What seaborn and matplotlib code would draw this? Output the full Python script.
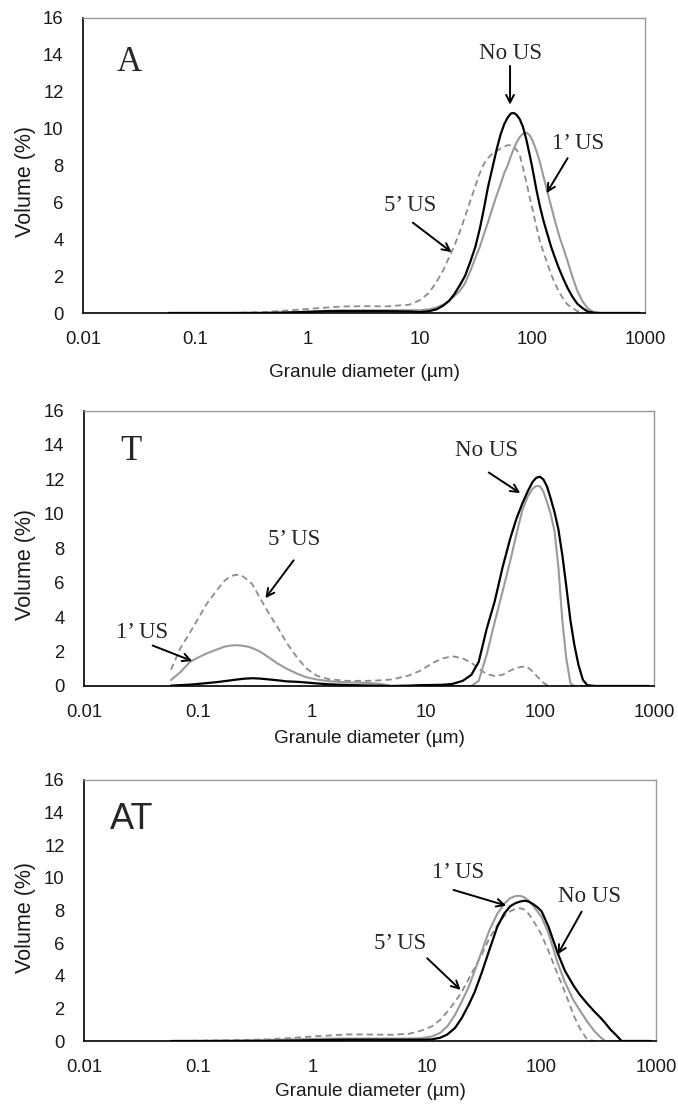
import matplotlib
matplotlib.use("Agg")
import matplotlib.pyplot as plt
import seaborn as sns

# ---- dados (diâmetro em µm, volume em %) ----
a_diam = [0.058, 0.1, 0.2, 0.4, 0.6, 1, 1.5, 2, 3, 5, 8, 10, 12, 14, 16, 18, 20, 22.5, 25, 28, 31, 34, 37,
          40, 44, 48, 52, 56, 60, 64, 68, 72, 77, 82, 88, 94, 100, 108, 116, 125, 135, 146, 158, 172,
          188, 205, 225, 250, 280, 310, 350, 400, 600, 900]
a_no_us = [0, 0, 0, 0, 0.02, 0.06, 0.1, 0.1, 0.1, 0.1, 0.08, 0.05, 0.1, 0.2, 0.4, 0.65, 1.0, 1.5, 2.0, 2.8, 3.6, 4.6, 5.7,
           6.8, 7.9, 8.9, 9.7, 10.25, 10.6, 10.82, 10.85, 10.75, 10.5, 10.1, 9.4, 8.6, 7.8, 6.7, 5.8, 5.0, 4.3, 3.6, 3.0, 2.4,
           1.85, 1.35, 0.9, 0.5, 0.25, 0.08, 0.01, 0, 0, 0]
a_us1 = [0, 0, 0, 0.01, 0.03, 0.08, 0.12, 0.15, 0.15, 0.15, 0.15, 0.15, 0.2, 0.3, 0.45, 0.65, 0.9, 1.2, 1.6, 2.3, 3.0, 3.6, 4.3,
         4.9, 5.7, 6.4, 7.0, 7.6, 8.0, 8.5, 8.9, 9.25, 9.55, 9.72, 9.78, 9.65, 9.35, 8.8, 8.2, 7.4, 6.6, 5.8, 5.0, 4.2,
         3.5, 2.8, 2.0, 1.2, 0.6, 0.25, 0.05, 0, 0, 0]
a_us5 = [0, 0, 0, 0.05, 0.12, 0.22, 0.3, 0.35, 0.37, 0.36, 0.45, 0.7, 1.1, 1.7, 2.3, 3.0, 3.6, 4.4, 5.2, 6.1, 6.9, 7.6, 8.1,
         8.4, 8.65, 8.8, 8.92, 9.02, 9.1, 9.1, 9.0, 8.85, 8.55, 7.9, 7.1, 6.3, 5.6, 4.7, 3.9, 3.3, 2.7, 2.1, 1.6, 1.15,
         0.75, 0.45, 0.28, 0.1, 0.02, 0, 0, 0, 0, 0]

t_diam = [0.058, 0.07, 0.085, 0.1, 0.12, 0.144, 0.17, 0.19, 0.21, 0.23, 0.25, 0.28, 0.3, 0.35, 0.42, 0.5, 0.6,
          0.75, 0.9, 1.1, 1.4, 2, 3, 4, 5, 7, 9, 11.5, 14, 17, 21, 25, 29, 34, 40, 47, 55, 62, 70, 78, 86,
          93, 100, 107, 115, 124, 134, 145, 157, 170, 185, 200, 218, 238, 260, 300, 500, 900]
t_no_us = [0.02, 0.05, 0.08, 0.12, 0.17, 0.22, 0.28, 0.32, 0.36, 0.39, 0.42, 0.44, 0.45, 0.43, 0.38, 0.33, 0.27,
           0.24, 0.2, 0.15, 0.1, 0.06, 0.03, 0.01, 0, 0.02, 0.05, 0.06, 0.07, 0.12, 0.3, 0.65, 1.4, 3.3, 4.9, 6.9, 8.6, 9.7, 10.6, 11.3, 11.85,
           12.1, 12.15, 12.0, 11.6, 10.9, 10.1, 9.1, 7.6, 5.8, 3.8, 2.4, 1.2, 0.35, 0.05, 0, 0, 0]
t_us1 = [0.35, 0.8, 1.4, 1.65, 1.9, 2.1, 2.28, 2.34, 2.37, 2.36, 2.33, 2.27, 2.2, 2.0, 1.65, 1.3, 1.0,
         0.7, 0.5, 0.38, 0.28, 0.22, 0.18, 0.12, 0, 0, 0, 0, 0, 0, 0, 0, 0.3, 1.8, 3.7, 5.5, 7.3, 8.8, 10.2, 11.0, 11.45,
         11.62, 11.6, 11.3, 10.7, 10.0, 9.0, 6.9, 3.8, 1.6, 0.15, 0, 0, 0, 0, 0, 0, 0]
t_us5 = [0.95, 2.2, 3.1, 3.9, 4.8, 5.5, 6.1, 6.35, 6.45, 6.45, 6.35, 6.1, 5.9, 5.1, 4.2, 3.4, 2.5,
         1.6, 1.0, 0.6, 0.4, 0.3, 0.3, 0.33, 0.38, 0.6, 0.9, 1.35, 1.6, 1.73, 1.6, 1.35, 1.0, 0.7, 0.58, 0.65, 0.9, 1.05, 1.12, 1.08, 0.85,
         0.6, 0.38, 0.2, 0.05, 0, 0, 0, 0, 0, 0, 0, 0, 0, 0, 0, 0, 0]

at_diam = [0.058, 0.1, 0.2, 0.4, 0.7, 1, 1.5, 2, 3, 5, 7, 9, 11, 13, 15, 17.5, 20, 23, 26, 30, 35, 41, 47,
           53, 59, 65, 71, 77, 84, 92, 100, 115, 138, 160, 190, 215, 250, 290, 330, 360, 400, 450, 500, 600, 900]
at_no_us = [0, 0, 0, 0.01, 0.03, 0.05, 0.07, 0.08, 0.08, 0.08, 0.08, 0.08, 0.1, 0.2, 0.4, 0.8, 1.4, 2.2, 3.0, 4.2, 5.6, 7.0, 7.8,
            8.25, 8.45, 8.55, 8.6, 8.55, 8.4, 8.2, 7.95, 7.0, 5.4, 4.3, 3.4, 2.85, 2.3, 1.8, 1.4, 1.1, 0.7, 0.35, 0, 0, 0]
at_us1 = [0, 0, 0.02, 0.05, 0.1, 0.13, 0.15, 0.15, 0.15, 0.15, 0.15, 0.17, 0.28, 0.5, 0.9, 1.6, 2.4, 3.3, 4.3, 5.5, 6.8, 7.8, 8.4,
          8.75, 8.88, 8.9, 8.8, 8.6, 8.3, 7.95, 7.6, 6.6, 4.8, 3.6, 2.5, 1.9, 1.2, 0.6, 0.2, 0, 0, 0, 0, 0, 0]
at_us5 = [0, 0.02, 0.05, 0.1, 0.2, 0.28, 0.35, 0.4, 0.4, 0.38, 0.45, 0.65, 0.9, 1.3, 1.8, 2.4, 3.0, 3.8, 4.5, 5.3, 6.3, 7.1, 7.65,
          7.95, 8.1, 8.14, 8.05, 7.8, 7.4, 6.95, 6.5, 5.5, 4.1, 3.0, 1.6, 0.8, 0.08, 0, 0, 0, 0, 0, 0, 0, 0]

sns.set_style("white")
plt.rcParams["font.family"] = ["Liberation Sans", "DejaVu Sans"]

SERIF = ["Liberation Serif", "DejaVu Serif"]
SANS = ["Liberation Sans", "DejaVu Sans"]
LARG, ALT = 678, 1105


def painel(fig, caixa, diam, no_us, us1, us5, letra, letra_fam, letra_tam, xlab_px, ylab_y, notas):
    """ Desenha um painel de distribuição granulométrica; caixa em pixels (esq, topo, dir, base) """
    esq, topo, dir_, base = caixa
    w, h = dir_ - esq, base - topo
    ax = fig.add_axes([esq / LARG, 1 - base / ALT, w / LARG, h / ALT])
    sns.lineplot(x=diam, y=us5, ax=ax, color="#8c8c8c", lw=1.3, linestyle=(0, (3.5, 2.2)), sort=False)
    sns.lineplot(x=diam, y=us1, ax=ax, color="#9a9a9a", lw=1.5, sort=False)
    sns.lineplot(x=diam, y=no_us, ax=ax, color="black", lw=1.6, sort=False)
    ax.set_xscale("log")
    ax.set_xlim(0.01, 1000)
    ax.set_ylim(0, 16)
    ax.set_xticks([0.01, 0.1, 1, 10, 100, 1000])
    ax.set_xticklabels(["0.01", "0.1", "1", "10", "100", "1000"])
    ax.xaxis.set_minor_locator(matplotlib.ticker.NullLocator())
    ax.set_yticks(range(0, 17, 2))
    ax.tick_params(axis="both", direction="out", length=4.5, width=0.9, color="#888888",
                   labelsize=13.3, labelcolor="#1a1a1a")
    ax.tick_params(axis="x", pad=8.5)
    ax.tick_params(axis="y", pad=9.5)
    for lado in ["left", "bottom"]:
        ax.spines[lado].set_color("black")
        ax.spines[lado].set_linewidth(1.2)
    for lado in ["top", "right"]:
        ax.spines[lado].set_color("#999999")
        ax.spines[lado].set_linewidth(1.0)
    ax.set_xlabel("Granule diameter (µm)", fontsize=13.7, color="#1a1a1a")
    ax.set_ylabel("Volume (%)", fontsize=15.5, color="#1a1a1a")
    ax.xaxis.set_label_coords(0.5, -(xlab_px - 3) / h)
    ax.yaxis.set_label_coords((35.5 - esq) / w, ylab_y)
    ax.text(0.026, 13.6, letra, family=letra_fam, fontsize=letra_tam, ha="center", va="center")
    for texto, pos, cauda, ponta in notas:
        ax.text(pos[0], pos[1], texto, family=SERIF, fontsize=16.5, ha="center", va="center")
        ax.annotate("", xy=ponta, xytext=cauda,
                    arrowprops=dict(arrowstyle="->,head_length=0.55,head_width=0.28", lw=1.4,
                                    color="black", shrinkA=0, shrinkB=0))
    return ax


fig = plt.figure(figsize=(LARG / 100, ALT / 100), dpi=100)

painel(fig, (83, 18, 645, 313), a_diam, a_no_us, a_us1, a_us5, "A", SERIF, 25, 54, 0.447, [
    ("No US", (63, 14.1), (63, 13.4), (63, 11.3)),
    ("1\u2019 US", (255, 9.2), (205, 8.4), (133, 6.5)),
    ("5\u2019 US", (8.2, 5.85), (8.6, 4.9), (19, 3.3)),
])
painel(fig, (84, 410.5, 654, 686), t_diam, t_no_us, t_us1, t_us5, "T", SERIF, 25, 47, 0.44, [
    ("No US", (34, 13.7), (35.5, 12.4), (67, 11.2)),
    ("5\u2019 US", (0.69, 8.5), (0.69, 7.3), (0.39, 5.1)),
    ("1\u2019 US", (0.0325, 3.1), (0.04, 2.35), (0.089, 1.45)),
])
painel(fig, (84, 780, 656, 1041), at_diam, at_no_us, at_us1, at_us5, "AT", SANS, 26, 45, 0.475, [
    ("1\u2019 US", (18.6, 10.3), (17, 9.26), (49, 8.3)),
    ("No US", (263, 8.85), (224, 7.93), (138, 5.3)),
    ("5\u2019 US", (5.8, 6.0), (10, 5.07), (19.6, 3.13)),
])

fig.savefig("out.png", dpi=100)
